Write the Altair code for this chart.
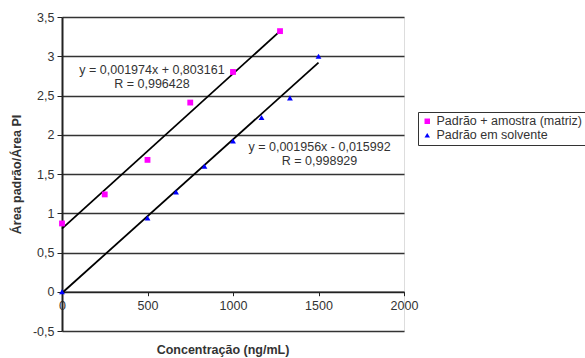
import altair as alt
import pandas as pd

# Data
series_names = ["Padrão + amostra (matriz)", "Padrão em solvente"]
matriz_x = [0, 250, 500, 750, 1000, 1275]
matriz_y = [0.87, 1.24, 1.68, 2.41, 2.80, 3.32]
solv_x = [0, 500, 667, 833, 1000, 1167, 1333, 1500]
solv_y = [0.0, 0.94, 1.27, 1.60, 1.92, 2.22, 2.47, 3.00]

# Trendline equations shown on chart
trend_slope = [0.001974, 0.001956]
trend_intercept = [0.803161, -0.015992]
trend_xrange = [(0, 1275), (0, 1500)]
eq_labels = [["y = 0,001974x + 0,803161", "R = 0,996428"],
             ["y = 0,001956x - 0,015992", "R = 0,998929"]]
eq_pos_x = [526, 1506]
eq_pos_y = [2.82, 1.84]

x_ticks = [0, 500, 1000, 1500, 2000]
y_ticks = [-0.5, 0.0, 0.5, 1.0, 1.5, 2.0, 2.5, 3.0, 3.5]

pts = pd.DataFrame(
    [{"x": a, "y": b, "s": series_names[0]} for a, b in zip(matriz_x, matriz_y)]
    + [{"x": a, "y": b, "s": series_names[1]} for a, b in zip(solv_x, solv_y)]
)
lines = pd.DataFrame(
    [{"x": xv, "y": m * xv + c, "g": i}
     for i, (m, c, xr) in enumerate(zip(trend_slope, trend_intercept, trend_xrange))
     for xv in xr]
)
ann = pd.DataFrame(
    [{"x": eq_pos_x[i], "y": eq_pos_y[i], "t": eq_labels[i]} for i in range(2)]
)

FONT = "Liberation Sans"
FS = 12.5
TXT = "#333"
xs = alt.Scale(domain=[0, 2000], nice=False)
ys = alt.Scale(domain=[-0.5, 3.5], nice=False)

x_axis = alt.Axis(values=x_ticks, grid=False, offset=-39.3, domain=True,
                  domainColor="#222", domainWidth=1.5, tickColor="#222", tickSize=4,
                  labelFont=FONT, labelFontSize=FS, labelColor=TXT,
                  labelPadding=4, labelOverlap=False, format="d",
                  labelFlush=False, title=None)
y_axis = alt.Axis(values=y_ticks, grid=True, gridColor="#333", gridWidth=1.3,
                  domainColor="#222", domainWidth=2, tickColor="#222", tickSize=5,
                  labelFont=FONT, labelFontSize=FS, labelColor=TXT,
                  labelOverlap=False, labelFlush=False, labelPadding=3,
                  labelExpr="replace(toString(datum.value), '.', ',')",
                  title="Área padrão/Área PI", titleFont=FONT,
                  titleFontSize=FS, titleFontWeight="bold",
                  titleColor=TXT, titlePadding=9)

X = alt.X("x:Q", scale=xs, axis=x_axis)
Y = alt.Y("y:Q", scale=ys, axis=y_axis)

trend = alt.Chart(lines).mark_line(color="black", strokeWidth=1.8).encode(
    x=X, y=Y, detail="g:N")

leg = alt.Legend(title=None, orient="none", legendX=356, legendY=95,
                 labelFont=FONT, labelFontSize=FS, labelColor=TXT,
                 symbolSize=30, strokeColor="#333", padding=3,
                 rowPadding=1, labelLimit=400, labelOffset=3)

points = alt.Chart(pts).mark_point(filled=True, opacity=1, size=34).encode(
    x=X, y=Y,
    color=alt.Color("s:N", scale=alt.Scale(domain=series_names, range=["#FF00FF", "#0000FF"]),
                    legend=leg),
    shape=alt.Shape("s:N", scale=alt.Scale(domain=series_names, range=["square", "triangle-up"]),
                    legend=leg),
)

text = alt.Chart(ann).mark_text(font=FONT, fontSize=FS, color=TXT, lineHeight=14,
                                baseline="middle", align="center").encode(
    x=X, y=Y, text="t")

xtitle = alt.Chart(pd.DataFrame({"t": ["Concentração (ng/mL)"]})).mark_text(
    font=FONT, fontSize=FS, fontWeight="bold", color=TXT, baseline="middle").encode(
    x=alt.value(161), y=alt.value(333), text="t")

chart = alt.layer(trend, points, text, xtitle).properties(
    width=342, height=314,
    autosize=alt.AutoSizeParams(type="none"),
    padding={"left": 62, "top": 17, "right": 181, "bottom": 27},
).configure_view(stroke="#aaa", strokeWidth=1).configure(background="white")

chart.save("out.html", embed_options={"renderer": "svg", "actions": False})
